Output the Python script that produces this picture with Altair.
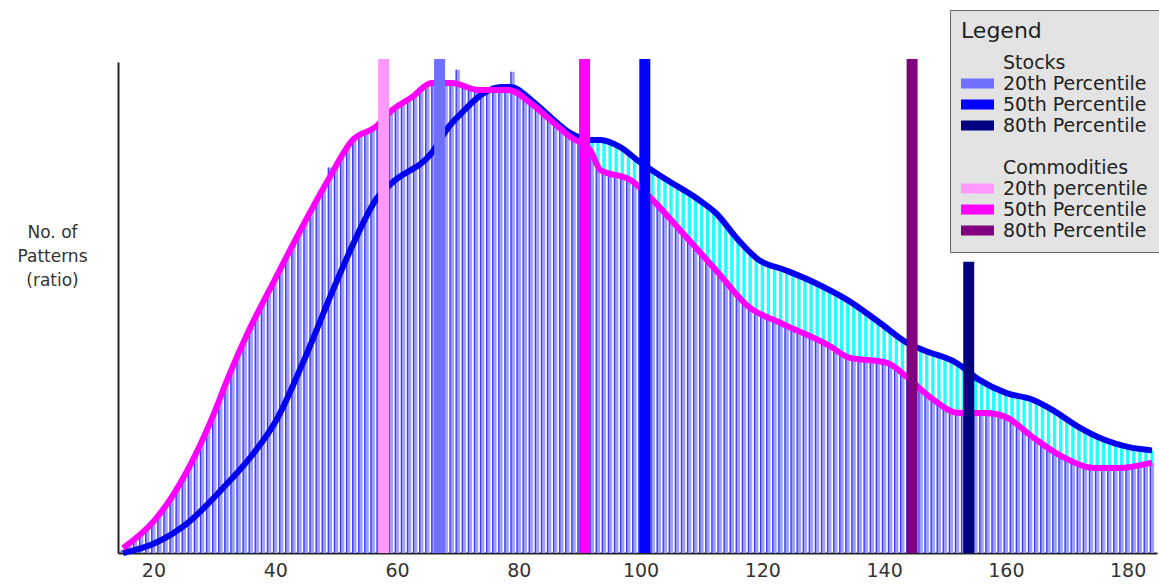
import altair as alt
import pandas as pd

# ---------------- data ----------------
bar_x = list(range(15, 185))

commodity_bars = [
    0.5, 1.5, 2.5, 3.8, 5.0, 6.5, 8.0, 9.7, 11.4, 13.5,            # 15-24
    15.7, 18.0, 20.6, 23.2, 25.8, 28.5, 31.5, 34.8, 38.0, 40.8,     # 25-34
    43.5, 46.0, 48.2, 50.5, 52.6, 54.8, 57.5, 60.0, 62.6, 65.2,     # 35-44
    67.6, 70.0, 72.3, 74.6, 78.5, 78.8, 80.8, 82.8, 84.2, 85.0,     # 45-54
    85.8, 86.5, 87.3, 88.5, 90.0, 90.9, 91.6, 92.5, 93.4, 94.3,     # 55-64
    95.2, 95.8, 96.0, 96.0, 95.8, 98.4, 95.2, 94.8, 94.4, 94.3,     # 65-74
    94.3, 94.4, 94.4, 94.3, 98.0, 93.0, 92.3, 91.5, 90.5, 89.4,     # 75-84
    88.3, 87.2, 86.2, 85.2, 84.2, 83.4, 82.6, 80.5, 78.5, 77.6,     # 85-94
    77.2, 76.9, 76.5, 76.1, 75.2, 74.1, 72.9, 71.8, 70.5, 69.0,     # 95-104
    67.7, 66.3, 65.0, 63.6, 62.2, 60.9, 59.5, 58.1, 56.7, 55.4,     # 105-114
    54.0, 52.6, 51.2, 50.0, 49.3, 48.7, 48.1, 47.4, 46.8, 46.2,     # 115-124
    45.6, 45.1, 44.5, 43.9, 43.3, 42.8, 42.1, 41.4, 40.6, 39.9,     # 125-134
    39.7, 39.5, 39.4, 39.2, 39.0, 38.8, 38.3, 37.4, 36.5, 35.6,     # 135-144
    34.5, 33.4, 32.3, 31.4, 30.7, 30.0, 29.4, 28.7, 28.4, 28.4,     # 145-154
    28.5, 28.5, 28.5, 28.3, 28.0, 27.7, 26.8, 25.9, 24.9, 24.0,     # 155-164
    23.0, 22.2, 21.4, 20.6, 19.8, 19.1, 18.6, 18.1, 17.7, 17.4,     # 165-174
    17.3, 17.3, 17.3, 17.3, 17.4, 17.6, 17.8, 18.0, 18.3, 18.4,     # 175-184
]

stock_bars = [
    0.2, 0.5, 0.9, 1.3, 1.7, 2.0, 2.6, 3.3, 4.0, 4.7,               # 15-24
    5.5, 6.5, 7.7, 8.9, 10.2, 11.5, 12.7, 14.0, 15.3, 16.7,         # 25-34
    18.2, 19.7, 21.3, 23.0, 24.9, 26.8, 29.3, 31.9, 34.6, 37.3,     # 35-44
    40.0, 43.0, 46.0, 49.0, 52.0, 55.0, 58.0, 60.8, 63.5, 66.0,     # 45-54
    68.5, 71.0, 72.5, 73.8, 75.3, 76.2, 77.1, 78.0, 79.0, 79.9,     # 55-64
    80.8, 82.0, 83.6, 85.5, 87.3, 88.9, 90.1, 91.2, 92.3, 93.4,     # 65-74
    94.2, 94.6, 94.9, 94.9, 94.6, 93.9, 93.1, 92.3, 91.2, 90.1,     # 75-84
    89.0, 88.0, 87.0, 86.0, 85.2, 84.7, 84.3, 84.1, 84.1, 83.9,     # 85-94
    83.4, 82.9, 82.3, 81.3, 80.4, 79.5, 78.7, 77.8, 77.0, 76.2,     # 95-104
    75.4, 74.6, 73.9, 73.1, 72.3, 71.4, 70.4, 69.4, 68.0, 66.6,     # 105-114
    65.1, 63.7, 62.5, 61.3, 60.1, 59.4, 58.9, 58.4, 57.9, 57.4,     # 115-124
    56.9, 56.4, 55.9, 55.3, 54.8, 54.1, 53.5, 52.8, 52.2, 51.5,     # 125-134
    50.6, 49.7, 48.9, 48.0, 47.1, 46.3, 45.4, 44.5, 43.5, 42.6,     # 135-144
    42.0, 41.5, 41.0, 40.5, 40.0, 39.5, 39.1, 38.6, 37.7, 36.8,     # 145-154
    35.8, 34.9, 34.3, 33.7, 33.2, 32.6, 32.3, 32.0, 31.7, 31.3,     # 155-164
    30.6, 30.0, 29.4, 28.7, 27.9, 27.1, 26.3, 25.6, 25.0, 24.4,     # 165-174
    23.8, 23.1, 22.7, 22.3, 21.9, 21.6, 21.4, 21.2, 21.0, 20.9,     # 175-184
]

comm_curve_x = [15, 20.2, 23, 26.2, 29.5, 32.1, 35.7, 39.9, 44.6, 48.7, 52.7,
                56.5, 59.2, 62.5, 65.7, 69, 73.4, 78.3, 82, 85.2, 88.5, 91.7,
                93.4, 98.3, 101.5, 106.9, 112.4, 117.8, 123.1, 131.3, 134,
                140.5, 143.8, 147.5, 152.4, 156.8, 160, 164.4, 169.3, 174.7,
                178.4, 184]
comm_curve_y = [1.0, 6.7, 11.4, 18.3, 27.1, 35.2, 45.4, 55.6, 66.8, 76.0, 84.1,
                86.8, 90.2, 92.9, 95.7, 95.7, 94.3, 94.3, 91.6, 88.2, 84.7, 82.1,
                78.0, 76.0, 72.5, 65.2, 57.6, 50.1, 46.8, 42.0, 39.9,
                38.7, 35.8, 31.8, 28.5, 28.5, 27.7, 23.6, 19.6, 17.3,
                17.3, 18.4]

stock_curve_x = [15, 20.2, 25.6, 31.1, 36.5, 40.2, 44.6, 49.5, 53.5, 56.5, 59.2,
                 65.7, 68.5, 70.6, 74.3, 77.1, 78.7, 82, 85.2, 88.5, 91.7, 93.4,
                 96.6, 99.9, 104.3, 109.6, 112.4, 116.1, 119.4, 123.8, 128.7,
                 134, 139.4, 143.8, 146.5, 151.9, 155.7, 160, 164.4, 167.7,
                 171.9, 176.3, 180, 184]
stock_curve_y = [0.0, 2.0, 6.1, 12.8, 20.4, 27.1, 38.9, 53.6, 64.8, 71.9, 75.4,
                 81.5, 86.8, 89.6, 93.7, 94.9, 94.9, 92.3, 88.8, 85.5, 84.1, 84.1,
                 82.7, 79.6, 76.0, 71.9, 69.2, 63.7, 59.7, 57.6, 55.0,
                 51.5, 46.8, 42.8, 41.3, 38.7, 35.2, 32.6, 31.2, 29.1,
                 25.7, 23.0, 21.6, 20.9]

pct_keys = ["s20", "s50", "s80", "c20", "c50", "c80"]
pct_x = [67.0, 100.7, 153.9, 57.8, 90.8, 144.6]
pct_top = [100.6, 100.6, 59.3, 100.6, 100.6, 100.6]

legend_keys = ["Stocks", "s20", "s50", "s80", "gap", "Commodities", "c20", "c50", "c80"]
legend_labels = ["Stocks", "20th Percentile", "50th Percentile", "80th Percentile", "",
                 "Commodities", "20th percentile", "50th Percentile", "80th Percentile"]
legend_colors = ["transparent", "#7070ff", "#0000ff", "#000080", "transparent",
                 "transparent", "#ff99ff", "#ff00ff", "#800080"]

x_ticks = [20, 40, 60, 80, 100, 120, 140, 160, 180]

# ---------------- tables ----------------
bars = pd.DataFrame({"x": bar_x, "c": commodity_bars, "s": stock_bars})
comm_curve = pd.DataFrame({"x": comm_curve_x, "y": comm_curve_y})
stock_curve = pd.DataFrame({"x": stock_curve_x, "y": stock_curve_y})
pct = pd.DataFrame({"key": pct_keys, "x": pct_x, "top": pct_top})

FONT = "DejaVu Sans"

label_expr = " : ".join(
    f"datum.value == '{k}' ? '{l}'" for k, l in zip(legend_keys, legend_labels)
) + " : ''"

xscale = alt.Scale(domain=[15, 184], nice=False, zero=False)
yscale = alt.Scale(domain=[0, 100], nice=False)

xaxis = alt.Axis(values=x_ticks, title=None, ticks=False, grid=False,
                 labelFont=FONT, labelFontSize=19, labelColor="#333",
                 labelPadding=8, domainColor="#222", domainWidth=2,
                 labelFlush=False)
yaxis = alt.Axis(title=["No. of", "Patterns", "(ratio)"], titleAngle=0,
                 titleAlign="center", titleBaseline="top", titleX=-66,
                 titleY=162, titleFont=FONT, titleFontSize=17,
                 titleFontWeight="normal", titleColor="#333",
                 titleLineHeight=24, labels=False, ticks=False, grid=False,
                 domainColor="#222", domainWidth=2)

stock_hist = alt.Chart(bars).mark_bar(width=3.4, color="#22ffff").encode(
    x=alt.X("x:Q", scale=xscale, axis=xaxis),
    y=alt.Y("s:Q", scale=yscale, axis=yaxis),
    y2=alt.datum(0),
)

comm_hist = alt.Chart(bars).mark_bar(width=4.2, color="#a0a0f6").encode(
    x="x:Q", y="c:Q", y2=alt.datum(0)
)

comm_edges = alt.Chart(bars).mark_rule(strokeWidth=1.3, color="#3a3aff",
                                       xOffset=-1.7).encode(
    x="x:Q", y="c:Q", y2=alt.datum(0)
)

stock_line = alt.Chart(stock_curve).mark_line(
    strokeWidth=6, color="#0000ee", interpolate="monotone"
).encode(x="x:Q", y="y:Q")

comm_line = alt.Chart(comm_curve).mark_line(
    strokeWidth=6, color="#ff00ff", interpolate="monotone"
).encode(x="x:Q", y="y:Q")

pct_bars = alt.Chart(pct).mark_bar(width=11).encode(
    x="x:Q",
    y="top:Q",
    y2=alt.datum(0),
    color=alt.Color(
        "key:N",
        scale=alt.Scale(domain=legend_keys, range=legend_colors),
        legend=alt.Legend(
            title="Legend", orient="none", legendX=832, legendY=-52,
            padding=11, fillColor="#e3e3e3", strokeColor="#666666",
            titleFont=FONT, titleFontSize=22, titleFontWeight="normal",
            titleColor="#222", titlePadding=9,
            labelFont=FONT, labelFontSize=19, labelColor="#222",
            labelExpr=label_expr, labelLimit=300, labelOffset=9,
            symbolType="M-1,-0.3H1V0.3H-1Z", symbolSize=1089,
            symbolStrokeWidth=0, clipHeight=21, rowPadding=0,
        ),
    ),
)

chart = alt.layer(
    stock_hist, comm_hist, comm_edges, stock_line, comm_line, pct_bars
).properties(
    width=1039, height=491,
    autosize=alt.AutoSizeParams(type="none"),
    padding={"left": 118, "top": 62, "right": 2, "bottom": 35},
    background="white",
).configure_view(stroke=None)

chart.save("out.html", embed_options={"renderer": "svg", "actions": False})
